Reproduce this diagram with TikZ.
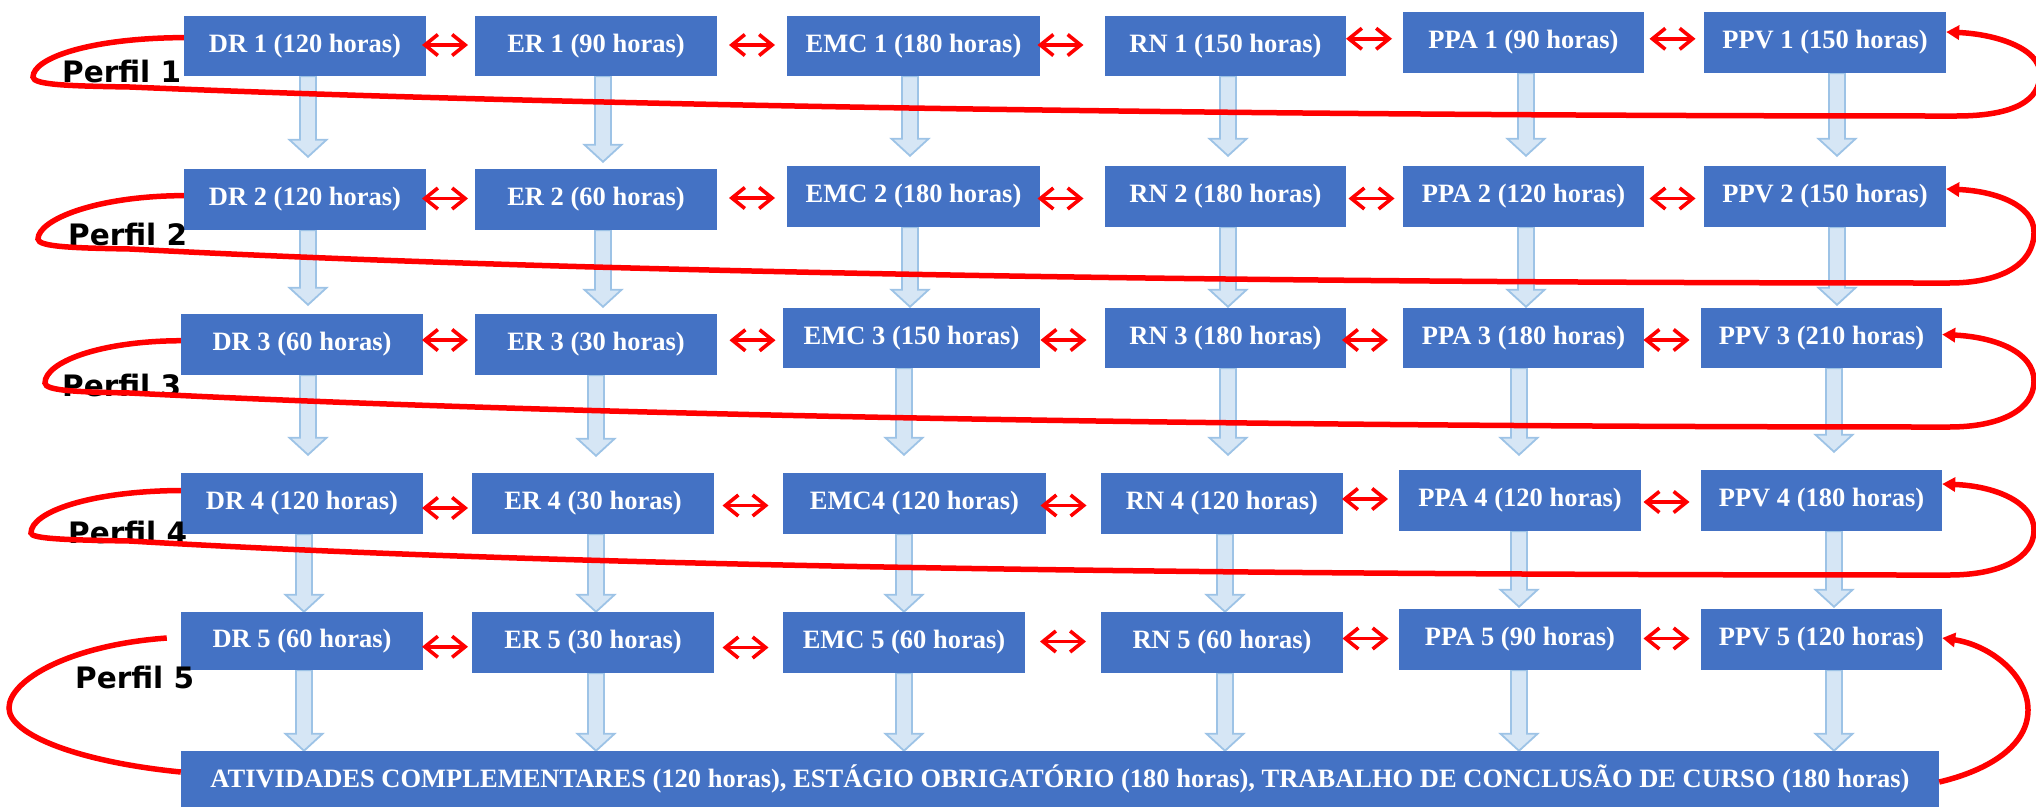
\documentclass[tikz,border=0pt]{standalone}
\usepackage{fontspec}
\setmainfont{Liberation Serif}
\newfontfamily\perfilfont{DejaVu Sans}
\usetikzlibrary{arrows.meta,calc}
\pgfdeclarelayer{bg}
\pgfsetlayers{bg,main}
\definecolor{boxblue}{HTML}{4472C4}
\definecolor{arrfill}{HTML}{D6E6F5}
\definecolor{arrdraw}{HTML}{9DC3E6}
\definecolor{loopred}{HTML}{FF0000}
\newcommand\mybox[6]{\node[box, minimum width={#4-#2}, minimum height={#5-#3}] (#1) at ({(#2+#4)/2},{(#3+#5)/2}) {#6};}
\newcommand\downarr[4]{\path[blk] let \p1=(#1.south), \p2=(#2.north) in
  (#3pt-8pt,\y1) -- (#3pt+8pt,\y1) -- (#3pt+8pt,\y2+#4pt+17pt) -- (#3pt+18.5pt,\y2+#4pt+17pt)
  -- (#3pt,\y2+#4pt) -- (#3pt-18.5pt,\y2+#4pt+17pt) -- (#3pt-8pt,\y2+#4pt+17pt) -- cycle;}
\newcommand\dbla[4]{\draw[dbl] ($(#1.east)!.5!(#2.west)+(#3-23,#4)$) -- ++(46,0);}
\begin{document}
\begin{tikzpicture}[x=1pt,y=-1pt,
  box/.style={fill=boxblue, draw=none, text=white, font=\bfseries\fontsize{26.5}{30}\selectfont, inner sep=0pt},
  dbl/.style={draw=loopred, line width=3.6pt, {Straight Barb[length=13pt,width=21pt]}-{Straight Barb[length=13pt,width=21pt]}},
  redloop/.style={draw=loopred, line width=5.5pt, -{Triangle[length=13pt,width=14pt]}},
  redline/.style={draw=loopred, line width=5.5pt},
  blk/.style={fill=arrfill, draw=arrdraw, line width=1.8pt, line join=miter},
  perfil/.style={font=\perfilfont\bfseries\fontsize{29.5}{32}\selectfont, text=black, anchor=base west, inner sep=0pt}]
\useasboundingbox (0,0) rectangle (2036,807);
% ---- boxes ----
\mybox{dr1}{184}{16}{426}{76}{DR 1 (120 horas)}
\mybox{er1}{475}{16}{717}{76}{ER 1 (90 horas)}
\mybox{emc1}{787}{16}{1040}{76}{EMC 1 (180 horas)}
\mybox{rn1}{1105}{16}{1346}{76}{RN 1 (150 horas)}
\mybox{ppa1}{1403}{12}{1644}{73}{PPA 1 (90 horas)}
\mybox{ppv1}{1704}{12}{1946}{73}{PPV 1 (150 horas)}
\mybox{dr2}{184}{169}{426}{230}{DR 2 (120 horas)}
\mybox{er2}{475}{169}{717}{230}{ER 2 (60 horas)}
\mybox{emc2}{787}{166}{1040}{227}{EMC 2 (180 horas)}
\mybox{rn2}{1105}{166}{1346}{227}{RN 2 (180 horas)}
\mybox{ppa2}{1403}{166}{1644}{227}{PPA 2 (120 horas)}
\mybox{ppv2}{1704}{166}{1946}{227}{PPV 2 (150 horas)}
\mybox{dr3}{181}{314}{423}{375}{DR 3 (60 horas)}
\mybox{er3}{475}{314}{717}{375}{ER 3 (30 horas)}
\mybox{emc3}{783}{308}{1040}{368}{EMC 3 (150 horas)}
\mybox{rn3}{1105}{308}{1346}{368}{RN 3 (180 horas)}
\mybox{ppa3}{1403}{308}{1644}{368}{PPA 3 (180 horas)}
\mybox{ppv3}{1701}{308}{1942}{368}{PPV 3 (210 horas)}
\mybox{dr4}{181}{473}{423}{534}{DR 4 (120 horas)}
\mybox{er4}{472}{473}{714}{534}{ER 4 (30 horas)}
\mybox{emc4}{783}{473}{1046}{534}{EMC4 (120 horas)}
\mybox{rn4}{1101}{473}{1343}{534}{RN 4 (120 horas)}
\mybox{ppa4}{1399}{470}{1641}{531}{PPA 4 (120 horas)}
\mybox{ppv4}{1701}{470}{1942}{531}{PPV 4 (180 horas)}
\mybox{dr5}{181}{612}{423}{670}{DR 5 (60 horas)}
\mybox{er5}{472}{612}{714}{673}{ER 5 (30 horas)}
\mybox{emc5}{783}{612}{1025}{673}{EMC 5 (60 horas)}
\mybox{rn5}{1101}{612}{1343}{673}{RN 5 (60 horas)}
\mybox{ppa5}{1399}{609}{1641}{670}{PPA 5 (90 horas)}
\mybox{ppv5}{1701}{609}{1942}{670}{PPV 5 (120 horas)}
\mybox{bot}{181}{751}{1939}{807}{ATIVIDADES COMPLEMENTARES (120 horas), ESTÁGIO OBRIGATÓRIO (180 horas), TRABALHO DE CONCLUSÃO DE CURSO (180 horas)}
% ---- block arrows (behind boxes) ----
\begin{pgfonlayer}{bg}
\downarr{dr1}{dr2}{308}{12}
\downarr{er1}{er2}{603}{7}
\downarr{emc1}{emc2}{910}{10}
\downarr{rn1}{rn2}{1228}{10}
\downarr{ppa1}{ppa2}{1526}{10}
\downarr{ppv1}{ppv2}{1837}{10}
\downarr{dr2}{dr3}{308}{9}
\downarr{er2}{er3}{603}{7}
\downarr{emc2}{emc3}{910}{1}
\downarr{rn2}{rn3}{1228}{1}
\downarr{ppa2}{ppa3}{1526}{1}
\downarr{ppv2}{ppv3}{1837}{3}
\downarr{dr3}{dr4}{308}{18}
\downarr{er3}{er4}{596}{17}
\downarr{emc3}{emc4}{904}{18}
\downarr{rn3}{rn4}{1228}{18}
\downarr{ppa3}{ppa4}{1519}{15}
\downarr{ppv3}{ppv4}{1834}{18}
\downarr{dr4}{dr5}{304}{0}
\downarr{er4}{er5}{596}{0}
\downarr{emc4}{emc5}{904}{0}
\downarr{rn4}{rn5}{1225}{0}
\downarr{ppa4}{ppa5}{1519}{2}
\downarr{ppv4}{ppv5}{1834}{2}
\downarr{dr5}{bot}{304}{0}
\downarr{er5}{bot}{596}{0}
\downarr{emc5}{bot}{904}{0}
\downarr{rn5}{bot}{1225}{0}
\downarr{ppa5}{bot}{1519}{0}
\downarr{ppv5}{bot}{1834}{0}
\end{pgfonlayer}
% ---- perfil labels ----
\node[perfil] (p1) at (62,82) {Perfil 1};
\node[perfil] (p2) at (68,245) {Perfil 2};
\node[perfil] (p3) at (62,396) {Perfil 3};
\node[perfil] (p4) at (68,543) {Perfil 4};
\node[perfil] (p5) at (75,688) {Perfil 5};
% ---- red loops ----
\draw[redloop] ([yshift=8.4pt]dr1.west) .. controls (90,38) and (33,58) .. (33,77)
  .. controls (33,85) and (70,86) .. (130,87) .. controls (600,107) and (1300,116) .. (1956,116)
  .. controls (2015,116) and (2040,100) .. (2040,74) .. controls (2040,48) and (1995,34) .. ([yshift=10.5pt]ppv1.east);
\draw[redloop] ([yshift=3.9pt]dr2.west) .. controls (95,196) and (38,220) .. (38,239)
  .. controls (38,247) and (75,248) .. (130,249) .. controls (600,274) and (1300,283) .. (1949,283)
  .. controls (2000,283) and (2034,265) .. (2034,232) .. controls (2034,205) and (1995,191) .. ([yshift=7.5pt]ppv2.east);
\draw[redloop] ([yshift=3.8pt]dr3.west) .. controls (100,341) and (45,362) .. (45,383)
  .. controls (45,391) and (80,392) .. (130,393) .. controls (600,417) and (1300,427) .. (1949,427)
  .. controls (2000,427) and (2034,410) .. (2034,381) .. controls (2034,352) and (1995,337) .. ([yshift=3.5pt]ppv3.east);
\draw[redloop] ([yshift=13pt]dr4.west) .. controls (90,491) and (31,512) .. (31,533)
  .. controls (31,539) and (70,540) .. (130,541) .. controls (600,569) and (1300,575) .. (1949,575)
  .. controls (2000,575) and (2034,558) .. (2034,530) .. controls (2034,502) and (1995,486) .. ([yshift=16.5pt]ppv4.east);
\draw[redline] ([xshift=-14pt,yshift=3pt]dr5.west) .. controls (70,645) and (9,680) .. (9,708)
  .. controls (9,735) and (80,762) .. ([yshift=7pt]bot.west);
\draw[redloop] ([yshift=-3pt]bot.east) .. controls (1990,770) and (2028,745) .. (2028,710)
  .. controls (2028,675) and (1990,645) .. ([yshift=1.5pt]ppv5.east);
% ---- double arrows ----
\dbla{dr1}{er1}{-5.5}{-1} \dbla{er1}{emc1}{0}{-1} \dbla{emc1}{rn1}{-12}{-1} \dbla{rn1}{ppa1}{-5.5}{-5.5} \dbla{ppa1}{ppv1}{-1.5}{-3.7}
\dbla{dr2}{er2}{-5.5}{-1} \dbla{er2}{emc2}{0}{0} \dbla{emc2}{rn2}{-12}{2} \dbla{rn2}{ppa2}{-3}{2} \dbla{ppa2}{ppv2}{-1.5}{2}
\dbla{dr3}{er3}{-4}{-4.5} \dbla{er3}{emc3}{2.5}{-1} \dbla{emc3}{rn3}{-9}{2} \dbla{rn3}{ppa3}{-9.5}{2} \dbla{ppa3}{ppv3}{-6}{2}
\dbla{dr4}{er4}{-2.5}{4.5} \dbla{er4}{emc4}{-3}{2} \dbla{emc4}{rn4}{-10}{2} \dbla{rn4}{ppa4}{-6}{-3} \dbla{ppa4}{ppv4}{-4.5}{1.5}
\dbla{dr5}{er5}{-2.5}{5} \dbla{er5}{emc5}{-3}{5} \dbla{emc5}{rn5}{0}{-1} \dbla{rn5}{ppa5}{-5.5}{-2.5} \dbla{ppa5}{ppv5}{-4.5}{-1}
\end{tikzpicture}
\end{document}
